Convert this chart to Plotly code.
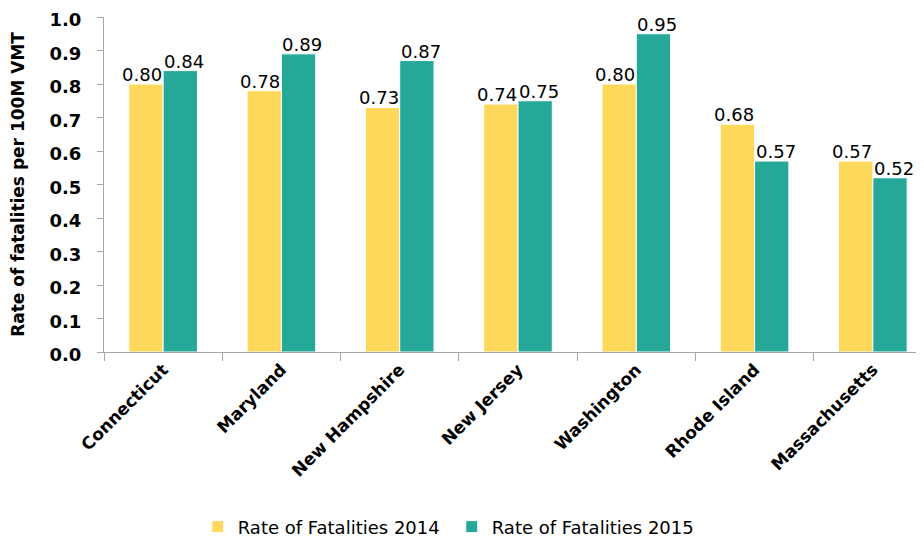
import plotly.graph_objects as go

states = ['Connecticut', 'Maryland', 'New Hampshire', 'New Jersey',
          'Washington', 'Rhode Island', 'Massachusetts']
rate_2014 = [0.80, 0.78, 0.73, 0.74, 0.80, 0.68, 0.57]
rate_2015 = [0.84, 0.89, 0.87, 0.75, 0.95, 0.57, 0.52]

FONT = 'DejaVu Sans'

fig = go.Figure()
fig.add_trace(go.Bar(x=states, y=rate_2014, name='Rate of Fatalities 2014',
                     marker=dict(color='#FED85A', line=dict(color='white', width=1))))
fig.add_trace(go.Bar(x=states, y=rate_2015, name='Rate of Fatalities 2015',
                     marker=dict(color='#25A898', line=dict(color='white', width=1))))

# value labels on top, nudged outward a little so neighbours don't collide
for vals, shift in ((rate_2014, -21), (rate_2015, 21)):
    for s, v in zip(states, vals):
        fig.add_annotation(x=s, y=v, text='%.2f' % v, showarrow=False,
                           xanchor='center', yanchor='bottom', xshift=shift, yshift=-3,
                           font=dict(size=18, color='black', family=FONT))

# page body adds an 8px offset, so margins are shifted to compensate
fig.update_layout(
    width=924, height=548,
    margin=dict(l=96, r=0, t=9, b=204, autoexpand=False),
    paper_bgcolor='white', plot_bgcolor='white',
    barmode='group', bargap=0.42, bargroupgap=0,
    font=dict(family=FONT, color='black'),
    legend=dict(orientation='h', x=0.42, xanchor='center',
                yref='container', y=0.053, yanchor='middle',
                font=dict(size=18, family=FONT), traceorder='normal',
                entrywidth=209),
    showlegend=True,
)
fig.update_yaxes(range=[0, 1.0], dtick=0.1, tickformat='.1f', automargin=False,
                 showgrid=False, zeroline=False,
                 showline=True, linecolor='#A6A6A6', linewidth=1,
                 ticks='outside', ticklen=6, tickcolor='#A6A6A6',
                 ticklabelstandoff=12, ticklabelshift=3, ticklabeloverflow='allow',
                 tickfont=dict(size=18, family=FONT, weight='bold'),
                 title=dict(text='<b>Rate of fatalities per 100M VMT</b>',
                            font=dict(size=17, family=FONT), standoff=20))
fig.update_xaxes(range=[-0.5, 6.5], showgrid=False, automargin=False,
                 showline=True, linecolor='#A6A6A6', linewidth=1,
                 ticks='outside', ticklen=8, tickcolor='#A6A6A6',
                 tickson='boundaries', tickangle=-45,
                 tickfont=dict(size=17, family=FONT, weight='bold'))

fig.write_html('out.html')
